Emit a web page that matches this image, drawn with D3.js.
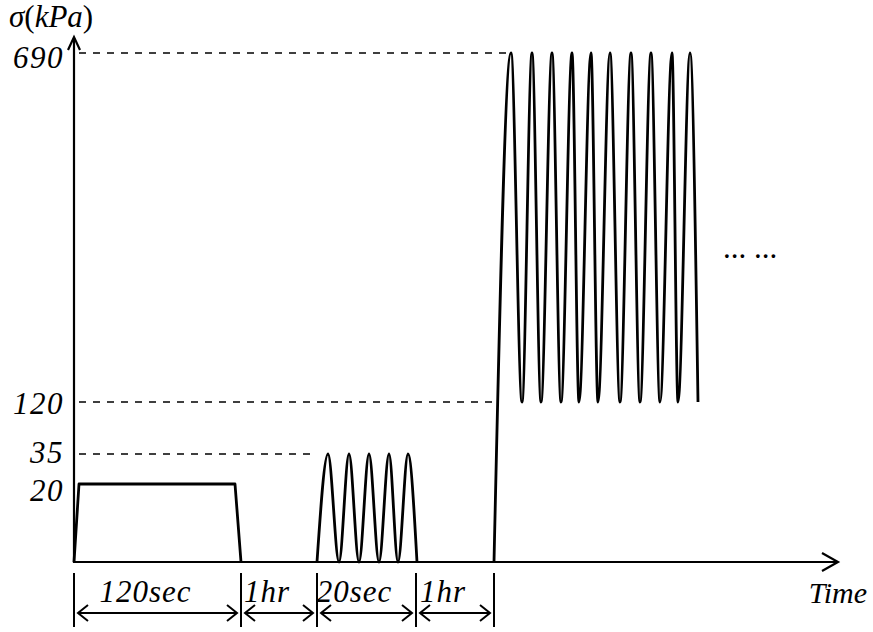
<!DOCTYPE html>
<html lang="en">
<head>
<meta charset="UTF-8">
<title>Loading sequence</title>
<script src="https://cdn.jsdelivr.net/npm/d3@7"></script>
<style>
  body { margin: 0; background: #fff; }
  svg { display: block; }
</style>
</head>
<body>
<div id="chart"></div>
<script>
// stress levels marked on the vertical axis (kPa)
const stressTicks = [20, 35, 120, 690];

// time is schematic (not to scale), in arbitrary units along the axis
const stageEdges = [0, 83.5, 121.5, 171, 210];
const stageLabels = ["120sec", "1hr", "20sec", "1hr"];

// seating load [time, kPa]
const seatingLoad = [[0, 0], [2.5, 20], [80.5, 20], [83.5, 0]];

// conditioning, 5 cycles 0-35 kPa (peaks and valleys)
const conditioningLoad = [
    [121.5, 0], [127, 35], [132.5, 0], [137.5, 35], [142.5, 0], [147.5, 35],
    [152.5, 0], [157.5, 35], [162, 0], [167, 35], [171.5, 0]
];

// cyclic loading 120-690 kPa (peaks and valleys)
const cyclicLoad = [
    [210, 0], [218.5, 690], [224, 120], [229, 690], [233.5, 120], [239, 690],
    [243.5, 120], [249, 690], [252.5, 120], [258.5, 690], [262, 120], [268, 690],
    [273, 120], [278.5, 690], [283, 120], [288.5, 690], [293, 120], [299, 690],
    [302, 120], [308, 690], [312, 120]
];

// dashed guides: [kPa, time where the guide stops]
const guideLines = [[690, 217], [120, 212], [35, 121.5]];

const width = 873, height = 632;
const serif = "'Times New Roman', 'Liberation Serif', 'DejaVu Serif', serif";

// the labels don't sit exactly on their levels in the original, nudge them a bit
const labelShift = { 20: "0.52em", 35: "0.27em", 120: "0.36em", 690: "0.47em" };

const svg = d3.select("#chart").append("svg")
    .attr("width", width)
    .attr("height", height)
    .attr("font-family", serif);

const x = d3.scaleLinear().domain([0, 382]).range([74, 838]);
// the stress axis is schematic too: piecewise linear between the marked levels
const y = d3.scaleLinear().domain([0, ...stressTicks]).range([562, 484, 454, 402, 53]);

// dashed guide lines
svg.append("g")
    .selectAll("line")
    .data(guideLines)
    .join("line")
    .attr("x1", x(0) + 5)
    .attr("x2", d => x(d[1]))
    .attr("y1", d => y(d[0]))
    .attr("y2", d => y(d[0]))
    .attr("stroke", "#000")
    .attr("stroke-width", 1.4)
    .attr("stroke-dasharray", "7,7");

// stress labels
svg.append("g")
    .attr("transform", `translate(${x(0)},0)`)
    .call(d3.axisLeft(y).tickValues(stressTicks).tickSize(0).tickPadding(10).tickFormat(d3.format("d")))
    .attr("font-family", serif)
    .attr("font-size", 31)
    .call(g => g.select(".domain").remove())
    .call(g => g.selectAll("text")
        .attr("dy", d => labelShift[d])
        .attr("letter-spacing", 1.5)
        .attr("font-style", "italic")
        .attr("fill", "#000"));

// axes with open arrow heads
const axes = svg.append("g")
    .attr("fill", "none")
    .attr("stroke", "#000")
    .attr("stroke-width", 2.2);

axes.append("line")
    .attr("x1", x(0)).attr("y1", y(0) + 1)
    .attr("x2", x(0)).attr("y2", 38);
axes.append("polyline")
    .attr("points", `${x(0) - 6},50 ${x(0)},37 ${x(0) + 6},50`);

axes.append("line")
    .attr("x1", x(0) - 1).attr("y1", y(0))
    .attr("x2", x(382) - 1).attr("y2", y(0));
axes.append("polyline")
    .attr("points", `${x(382) - 16},${y(0) - 9} ${x(382)},${y(0)} ${x(382) - 16},${y(0) + 9}`);

// loading history
const straight = d3.line().x(d => x(d[0])).y(d => y(d[1]));
const smooth = d3.line().x(d => x(d[0])).y(d => y(d[1])).curve(d3.curveMonotoneX);

const curves = svg.append("g")
    .attr("fill", "none")
    .attr("stroke", "#000")
    .attr("stroke-width", 2.8)
    .attr("stroke-linejoin", "round");

curves.append("path").attr("d", straight(seatingLoad));
curves.append("path").attr("d", smooth(conditioningLoad));
curves.append("path").attr("d", smooth(cyclicLoad));

// stage durations under the time axis
const stages = svg.append("g");

stages.selectAll("line.edge")
    .data(stageEdges)
    .join("line")
    .attr("class", "edge")
    .attr("x1", d => x(d)).attr("x2", d => x(d))
    .attr("y1", 573).attr("y2", 627)
    .attr("stroke", "#000")
    .attr("stroke-width", 2);

const spans = stageLabels.map((label, i) => ({ label, t0: stageEdges[i], t1: stageEdges[i + 1] }));

const arrowY = 613;
const arrows = stages.selectAll("g.span")
    .data(spans)
    .join("g")
    .attr("class", "span")
    .attr("fill", "none")
    .attr("stroke", "#000")
    .attr("stroke-width", 2);

arrows.append("line")
    .attr("x1", d => x(d.t0) + 4).attr("x2", d => x(d.t1) - 4)
    .attr("y1", arrowY).attr("y2", arrowY);
arrows.append("polyline")
    .attr("points", d => `${x(d.t0) + 14},${arrowY - 8} ${x(d.t0) + 4},${arrowY} ${x(d.t0) + 14},${arrowY + 8}`);
arrows.append("polyline")
    .attr("points", d => `${x(d.t1) - 14},${arrowY - 8} ${x(d.t1) - 4},${arrowY} ${x(d.t1) - 14},${arrowY + 8}`);

stages.selectAll("text")
    .data(spans)
    .join("text")
    .attr("x", d => (x(d.t0) + x(d.t1)) / 2 - 12)
    .attr("y", 602)
    .attr("text-anchor", "middle")
    .attr("font-size", 31)
    .attr("letter-spacing", 1)
    .attr("font-style", "italic")
    .text(d => d.label);

// axis titles
const yTitle = svg.append("text")
    .attr("x", 9)
    .attr("y", 27)
    .attr("font-size", 31);
yTitle.append("tspan").attr("font-style", "italic").text("σ");
yTitle.append("tspan").text("(");
yTitle.append("tspan").attr("font-style", "italic").text("kPa");
yTitle.append("tspan").text(")");

svg.append("text")
    .attr("x", 867)
    .attr("y", 603)
    .attr("text-anchor", "end")
    .attr("font-size", 30)
    .attr("font-style", "italic")
    .text("Time");

// continuation mark
svg.append("text")
    .attr("x", x(312) + 25)
    .attr("y", 258)
    .attr("font-size", 31)
    .text("... ...");
</script>
</body>
</html>
